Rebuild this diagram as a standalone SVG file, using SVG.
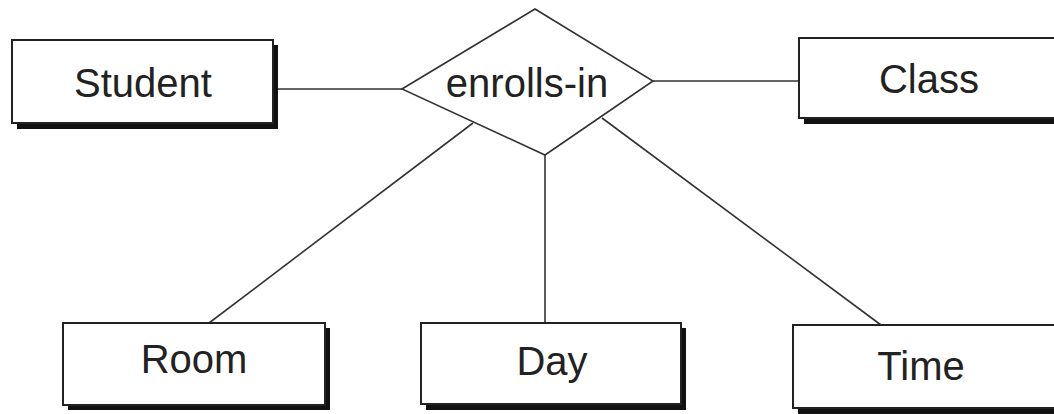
<svg xmlns="http://www.w3.org/2000/svg" width="1054" height="414" viewBox="0 0 1054 414">
<style>
.shadow{fill:#111}
.box{fill:#fff;stroke:#222;stroke-width:2}
.lbl{font-family:"Liberation Sans",Arial,sans-serif;font-size:40px;fill:#222;text-anchor:middle}
.conn{stroke:#333;stroke-width:1.6;fill:none}
</style>
<rect width="1054" height="414" fill="#fff"/>
<g id="connectors">
<line class="conn" x1="278" y1="89" x2="402" y2="89"/>
<line class="conn" x1="653" y1="81" x2="799" y2="81"/>
<line class="conn" x1="473" y1="123" x2="209" y2="323"/>
<line class="conn" x1="545" y1="155" x2="545" y2="323"/>
<line class="conn" x1="602" y1="118" x2="881" y2="325"/>
</g>
<g id="student">
<rect class="shadow" x="17" y="45" width="261" height="84"/>
<rect class="box" x="12" y="40" width="261" height="83"/>
<text class="lbl" x="143" y="97">Student</text>
</g>
<g id="enrolls-in">
<polygon points="535,9 653,81 545,155 402,89" fill="#fff" stroke="#333" stroke-width="1.6"/>
<text class="lbl" x="527" y="97">enrolls-in</text>
</g>
<g id="class">
<rect class="shadow" x="804" y="43" width="260" height="81"/>
<rect class="box" x="799" y="38" width="270" height="80"/>
<text class="lbl" x="929" y="93">Class</text>
</g>
<g id="room">
<rect class="shadow" x="68" y="328" width="262" height="82"/>
<rect class="box" x="63" y="323" width="262" height="82"/>
<text class="lbl" x="194" y="373">Room</text>
</g>
<g id="day">
<rect class="shadow" x="426" y="328" width="260" height="82"/>
<rect class="box" x="421" y="323" width="260" height="81"/>
<text class="lbl" x="552" y="375">Day</text>
</g>
<g id="time">
<rect class="shadow" x="798" y="330" width="270" height="84"/>
<rect class="box" x="793" y="325" width="270" height="83"/>
<text class="lbl" x="921" y="380">Time</text>
</g>
</svg>
